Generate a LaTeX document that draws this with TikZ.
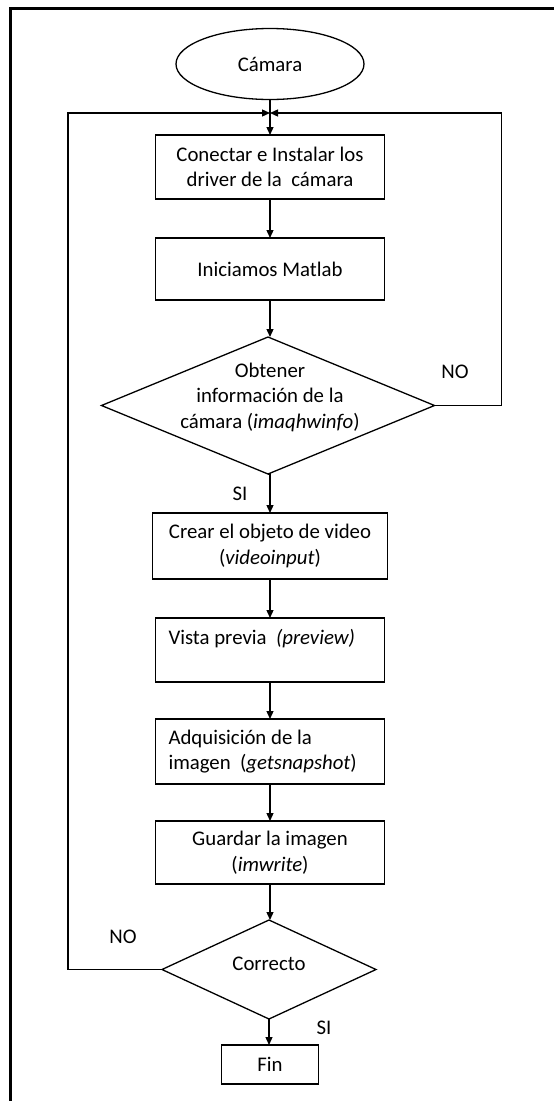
\documentclass[tikz,border=0pt]{standalone}
\usepackage{fontspec}
\setmainfont{Carlito}
\usetikzlibrary{shapes.geometric,arrows.meta}
\begin{document}
\begin{tikzpicture}[x=1pt,y=-1pt,
  every node/.style={font=\fontsize{20.8}{25.5}\selectfont, inner sep=0pt, outer sep=0pt},
  stepbox/.style={draw, line width=1.3pt, rectangle, minimum width=229pt, minimum height=64pt, align=center},
  leftbox/.style={stepbox, align=flush left, text width=203pt, inner xsep=13pt},
  startnode/.style={draw, line width=1.3pt, ellipse, minimum width=188pt, minimum height=71pt},
  choice/.style={draw, line width=1.3pt, diamond},
  flow/.style={line width=1.3pt, -{Triangle[length=8pt,width=7pt]}},
]
\useasboundingbox (0,0) rectangle (554,1101);

% page frame (only top and left edges are visible)
\draw[line width=2.5pt] (10.5,1101) -- (10.5,8.5) -- (554,8.5);

% nodes
\node[startnode] (cam) at (270,64) {Cámara};
\coordinate (j) at (270,113);
\node[stepbox, minimum height=64pt] (b1) at (270,167) {Conectar e Instalar los\\driver de la\ \ cámara};
\node[stepbox, minimum height=62pt] (b2) at (270,269) {Iniciamos Matlab};
\node[choice, minimum width=333pt, minimum height=137pt] (d1) at (268,405.5) {};
\node[align=center] (d1t) at (270,397) {Obtener\\información de la\\cámara (\textit{imaqhwinfo})};
\node[stepbox, minimum width=235pt, minimum height=66pt] (b3) at (270,546) {Crear el objeto de video\\(\textit{videoinput})};
\node[leftbox, minimum height=64pt] (b4) at (270,650) {Vista previa\ \ \textit{(preview)}\\\mbox{}};
\node[leftbox, minimum height=65pt] (b5) at (270,751.5) {Adquisición de la\\imagen\ \ (\textit{getsnapshot})};
\node[stepbox, minimum height=63pt] (b6) at (270,852.5) {Guardar la imagen\\(\textit{imwrite})};
\node[choice, minimum width=214pt, minimum height=99pt] (d2) at (269,969.5) {};
\node (d2t) at (269,964) {Correcto};
\node[draw, line width=1.3pt, rectangle, minimum width=97pt, minimum height=39pt] (fin) at (270,1064.5) {Fin};

% branch labels
\node (no1) at (455,372) {NO};
\node (si1) at (240,494) {SI};
\node (no2) at (123,937) {NO};
\node (si2) at (324,1028) {SI};

% main flow
\draw[flow] (cam.south) -- (b1.north);
\draw[flow] (b1) -- (b2);
\draw[flow] (b2.south) -- (b2.south |- d1.north);
\draw[flow] (d1.south) -- (d1.south -| b3.north) -- (b3.north);
\draw[flow] (b3) -- (b4);
\draw[flow] (b4) -- (b5);
\draw[flow] (b5) -- (b6);
\draw[flow] (b6.south) -- (b6.south |- d2.north);
\draw[flow] (d2.south) -- (d2.south |- fin.north);

% return loops
\draw[flow] (d1.east) -- ++(67,0) |- (j);
\draw[flow] (d2.west) -- ++(-94,0) |- (j);
\end{tikzpicture}
\end{document}
